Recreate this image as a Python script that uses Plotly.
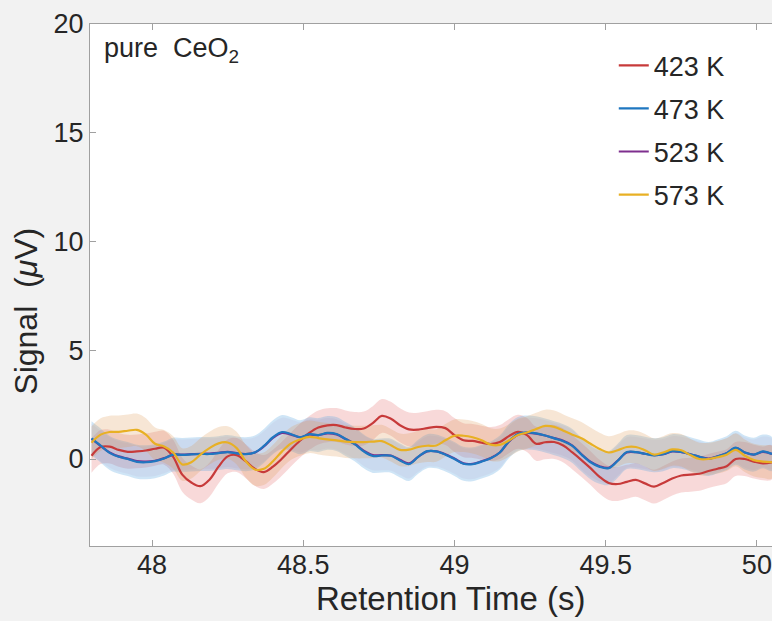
import plotly.graph_objects as go

# Retention time (s)
time_s = [47.80, 47.83, 47.86, 47.89, 47.92, 47.95, 47.98, 48.01, 48.04, 48.07,
          48.10, 48.13, 48.16, 48.19, 48.22, 48.25, 48.28, 48.31, 48.34, 48.37,
          48.40, 48.43, 48.46, 48.49, 48.52, 48.55, 48.58, 48.61, 48.64, 48.67,
          48.70, 48.73, 48.76, 48.79, 48.82, 48.85, 48.88, 48.91, 48.94, 48.97,
          49.00, 49.03, 49.06, 49.09, 49.12, 49.15, 49.18, 49.21, 49.24, 49.27,
          49.30, 49.33, 49.36, 49.39, 49.42, 49.45, 49.48, 49.51, 49.54, 49.57,
          49.60, 49.63, 49.66, 49.69, 49.72, 49.75, 49.78, 49.81, 49.84, 49.87,
          49.90, 49.93, 49.96, 49.99, 50.02, 50.05]

# Mean signal (µV) at each temperature
sig_423 = [0.15, 0.55, 0.57, 0.42, 0.33, 0.35, 0.39, 0.47, 0.52, 0.10,
           -0.72, -1.08, -1.25, -0.95, -0.35, 0.12, 0.18, -0.10, -0.45, -0.60,
           -0.35, 0.02, 0.45, 0.85, 1.20, 1.45, 1.55, 1.56, 1.45, 1.38,
           1.40, 1.65, 1.98, 1.85, 1.55, 1.36, 1.35, 1.42, 1.48, 1.42,
           1.10, 0.86, 0.83, 0.75, 0.69, 0.78, 1.05, 1.25, 1.10, 0.70,
           0.77, 0.78, 0.62, 0.30, -0.05, -0.42, -0.82, -1.10, -1.15, -1.05,
           -0.96, -1.12, -1.27, -1.10, -0.90, -0.76, -0.72, -0.68, -0.55, -0.45,
           -0.33, 0.00, 0.00, -0.12, -0.20, -0.15]

sig_473 = [0.95, 0.62, 0.28, 0.10, 0.00, -0.13, -0.15, -0.10, 0.02, 0.20,
           0.19, 0.21, 0.23, 0.23, 0.27, 0.32, 0.26, 0.22, 0.30, 0.60,
           1.00, 1.24, 1.14, 1.00, 1.14, 1.10, 1.20, 1.15, 0.92, 0.68,
           0.35, 0.14, 0.16, 0.15, -0.07, -0.23, 0.10, 0.36, 0.35, 0.20,
           0.00, -0.22, -0.24, -0.12, 0.03, 0.30, 0.82, 1.15, 1.22, 1.18,
           1.08, 0.95, 0.82, 0.60, 0.20, -0.15, -0.36, -0.42, -0.08, 0.32,
           0.32, 0.24, 0.17, 0.22, 0.36, 0.33, 0.22, 0.10, 0.00, 0.12,
           0.27, 0.52, 0.30, 0.20, 0.35, 0.23]

sig_523 = [0.92, 0.60, 0.30, 0.12, 0.02, -0.10, -0.12, -0.08, 0.04, 0.20,
           0.20, 0.22, 0.24, 0.25, 0.28, 0.33, 0.27, 0.23, 0.30, 0.58,
           0.97, 1.20, 1.12, 1.00, 1.12, 1.10, 1.18, 1.13, 0.92, 0.70,
           0.38, 0.18, 0.18, 0.16, -0.04, -0.20, 0.10, 0.35, 0.35, 0.22,
           0.02, -0.20, -0.22, -0.10, 0.05, 0.30, 0.80, 1.12, 1.20, 1.17,
           1.08, 0.96, 0.84, 0.62, 0.22, -0.12, -0.33, -0.40, -0.07, 0.30,
           0.31, 0.24, 0.18, 0.22, 0.35, 0.32, 0.22, 0.10, 0.02, 0.12,
           0.26, 0.50, 0.30, 0.20, 0.33, 0.23]

sig_573 = [0.75, 1.12, 1.24, 1.25, 1.30, 1.34, 1.12, 0.70, 0.58, 0.30,
           -0.25, -0.15, 0.20, 0.50, 0.72, 0.76, 0.50, -0.10, -0.48, -0.45,
           -0.10, 0.35, 0.72, 0.90, 1.02, 0.96, 0.90, 0.86, 0.80, 0.78,
           0.78, 0.80, 0.82, 0.63, 0.42, 0.43, 0.55, 0.61, 0.62, 0.86,
           1.07, 1.07, 1.00, 0.86, 0.66, 0.65, 0.85, 1.10, 1.22, 1.38,
           1.52, 1.48, 1.30, 1.12, 0.95, 0.70, 0.46, 0.30, 0.40, 0.55,
           0.55, 0.40, 0.20, 0.30, 0.44, 0.40, 0.18, 0.00, 0.00, 0.08,
           0.20, 0.42, 0.15, -0.05, -0.12, -0.15]

# Half-width of the shaded uncertainty band (µV)
spread_423 = 0.78
spread_473 = 0.78
spread_523 = 0.70
spread_573 = 0.75

labels = ["423 K", "473 K", "523 K", "573 K"]
line_colors = ["#c73a3a", "#1f77c0", "#7e2f8e", "#e8b024"]
band_colors = ["rgba(226,95,95,0.24)", "rgba(95,170,225,0.30)",
               "rgba(140,80,150,0.07)", "rgba(222,150,80,0.24)"]

series = [sig_423, sig_473, sig_523, sig_573]
spreads = [spread_423, spread_473, spread_523, spread_573]

fig = go.Figure()

# shaded bands first
for sig, sd, bc in zip(series, spreads, band_colors):
    upper = [v + sd for v in sig]
    lower = [v - sd for v in sig]
    fig.add_trace(go.Scatter(
        x=time_s + time_s[::-1],
        y=upper + lower[::-1],
        fill="toself", fillcolor=bc,
        line=dict(width=0, shape="spline", smoothing=1.0),
        mode="lines", hoverinfo="skip", showlegend=False,
    ))

# mean lines; 523 K drawn first so the others sit on top
draw_order = [2, 0, 1, 3]
for i in draw_order:
    fig.add_trace(go.Scatter(
        x=time_s, y=series[i], mode="lines", name=labels[i],
        legendgroup=labels[i], legendrank=i + 1,
        line=dict(color=line_colors[i], width=2.2, shape="spline", smoothing=1.0),
    ))

font_family = "Liberation Sans, Arial, sans-serif"
text_color = "#262626"

fig.update_layout(
    width=772, height=621,
    paper_bgcolor="#f2f2f2", plot_bgcolor="#ffffff",
    margin=dict(l=90, r=0, t=24, b=75),
    font=dict(family=font_family, size=26, color=text_color),
    showlegend=True,
    legend=dict(
        x=0.768, y=0.967, xanchor="left", yanchor="top",
        bgcolor="rgba(0,0,0,0)", borderwidth=0,
        font=dict(size=27, color=text_color),
        tracegroupgap=5, itemwidth=30,
    ),
    annotations=[
        dict(text="pure  CeO<sub>2</sub>", xref="paper", yref="paper",
             x=0.018, y=0.987, xanchor="left", yanchor="top", showarrow=False,
             font=dict(size=27, color=text_color)),
        # axis titles
        dict(text="Retention Time (s)", xref="paper", yref="paper",
             x=0.529, y=-0.1, xanchor="center", yanchor="middle",
             showarrow=False, font=dict(size=33, color=text_color)),
        dict(text="Signal  (<i>μ</i>V)", xref="paper", yref="paper",
             x=-0.093, y=0.45, xanchor="center", yanchor="middle",
             textangle=-90, showarrow=False,
             font=dict(size=32, color=text_color)),
    ],
)

fig.update_xaxes(
    range=[47.795, 50.05],
    tickvals=[48, 48.5, 49, 49.5, 50], ticktext=["48", "48.5", "49", "49.5", "50"],
    ticks="inside", ticklen=6, tickcolor="#a0a0a0",
    showline=True, linecolor="#a0a0a0", linewidth=1.2, mirror="ticks",
    showgrid=False, zeroline=False,
    tickfont=dict(size=27), ticklabelstandoff=-6,
)
fig.update_yaxes(
    range=[-4, 20],
    tickvals=[0, 5, 10, 15, 20],
    ticks="inside", ticklen=6, tickcolor="#a0a0a0",
    showline=True, linecolor="#a0a0a0", linewidth=1.2, mirror=False,
    showgrid=False, zeroline=False,
    tickfont=dict(size=27),
)

fig.write_html("out.html")
